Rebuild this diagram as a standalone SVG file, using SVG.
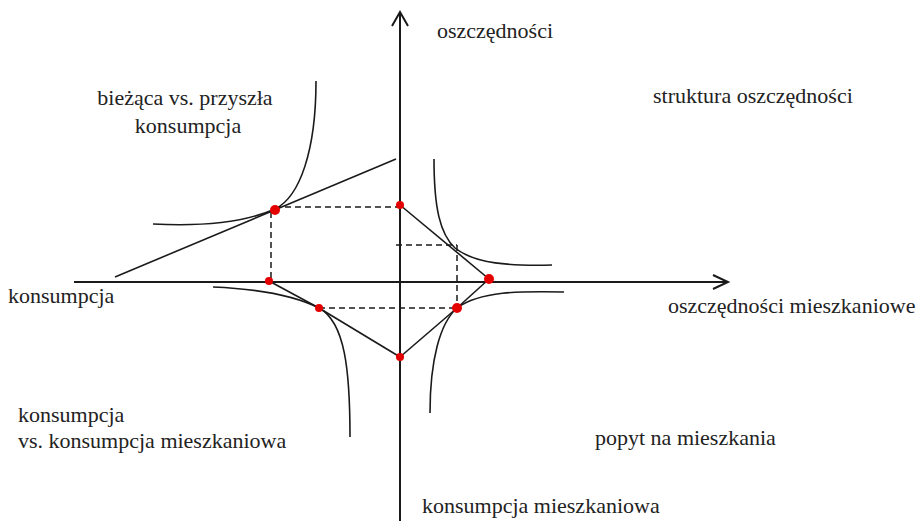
<svg xmlns="http://www.w3.org/2000/svg" width="922" height="521" viewBox="0 0 922 521">
<style>
.t{font-family:"Liberation Serif","Times New Roman",serif;font-size:22px;fill:#222}
.ax{stroke:#1a1a1a;stroke-width:2;fill:none}
.ln{stroke:#1a1a1a;stroke-width:1.6;fill:none}
.cv{stroke:#1a1a1a;stroke-width:1.6;fill:none}
.ds{stroke:#1a1a1a;stroke-width:1.5;fill:none;stroke-dasharray:6 4}
.pt{fill:#e50000}
</style>
<rect width="922" height="521" fill="#fff"/>
<g id="axes">
<line class="ax" x1="74" y1="282" x2="728" y2="282"/>
<polyline class="ax" points="713,275 728,282 713,289"/>
<line class="ax" x1="400" y1="521" x2="400" y2="12"/>
<polyline class="ax" points="392,26 400,12 408,26"/>
</g>
<g id="connectors">
<line class="ln" x1="115" y1="277" x2="396" y2="159"/>
<line class="ln" x1="400" y1="205" x2="489" y2="279"/>
<line class="ln" x1="489" y1="279" x2="457" y2="308"/>
<line class="ln" x1="457" y1="308" x2="400" y2="357"/>
<line class="ln" x1="400" y1="357" x2="319" y2="308"/>
<line class="ln" x1="319" y1="308" x2="269" y2="281"/>
<line class="ds" x1="275" y1="207" x2="400" y2="207"/>
<line class="ds" x1="271" y1="212" x2="271" y2="281"/>
<line class="ds" x1="396" y1="245" x2="457" y2="245"/>
<line class="ds" x1="457" y1="245" x2="457" y2="306"/>
<line class="ds" x1="319" y1="308" x2="457" y2="308"/>
</g>
<g id="curves">
<path id="curve-q2" class="cv" d="M153,224 C210,227 250,220 275,209 C300,197 316,150 316,81"/>
<path id="curve-q1" class="cv" d="M434,159 C434,208 440,234 455,248 C475,264 510,266 552,265"/>
<path id="curve-q3" class="cv" d="M213,287 C260,289 295,296 319,308 C345,322 350,370 350,437"/>
<path id="curve-q4" class="cv" d="M564,292 C520,291 480,291 457,308 C440,323 430,360 430,413"/>
</g>
<g id="points">
<circle class="pt" cx="275" cy="210" r="5"/>
<circle class="pt" cx="400" cy="205" r="4"/>
<circle class="pt" cx="269" cy="281" r="4"/>
<circle class="pt" cx="489" cy="279" r="5"/>
<circle class="pt" cx="457" cy="308" r="5"/>
<circle class="pt" cx="319" cy="308" r="4"/>
<circle class="pt" cx="400" cy="357" r="4"/>
</g>
<g id="labels">
<text class="t" x="437" y="38">oszczędności</text>
<text class="t" x="185" y="105" text-anchor="middle">bieżąca vs. przyszła</text>
<text class="t" x="188" y="133" text-anchor="middle">konsumpcja</text>
<text class="t" x="653" y="103">struktura oszczędności</text>
<text class="t" x="8" y="303">konsumpcja</text>
<text class="t" x="668" y="313">oszczędności mieszkaniowe</text>
<text class="t" x="18" y="422">konsumpcja</text>
<text class="t" x="18" y="448">vs. konsumpcja mieszkaniowa</text>
<text class="t" x="595" y="445">popyt na mieszkania</text>
<text class="t" x="422" y="513">konsumpcja mieszkaniowa</text>
</g>
</svg>
